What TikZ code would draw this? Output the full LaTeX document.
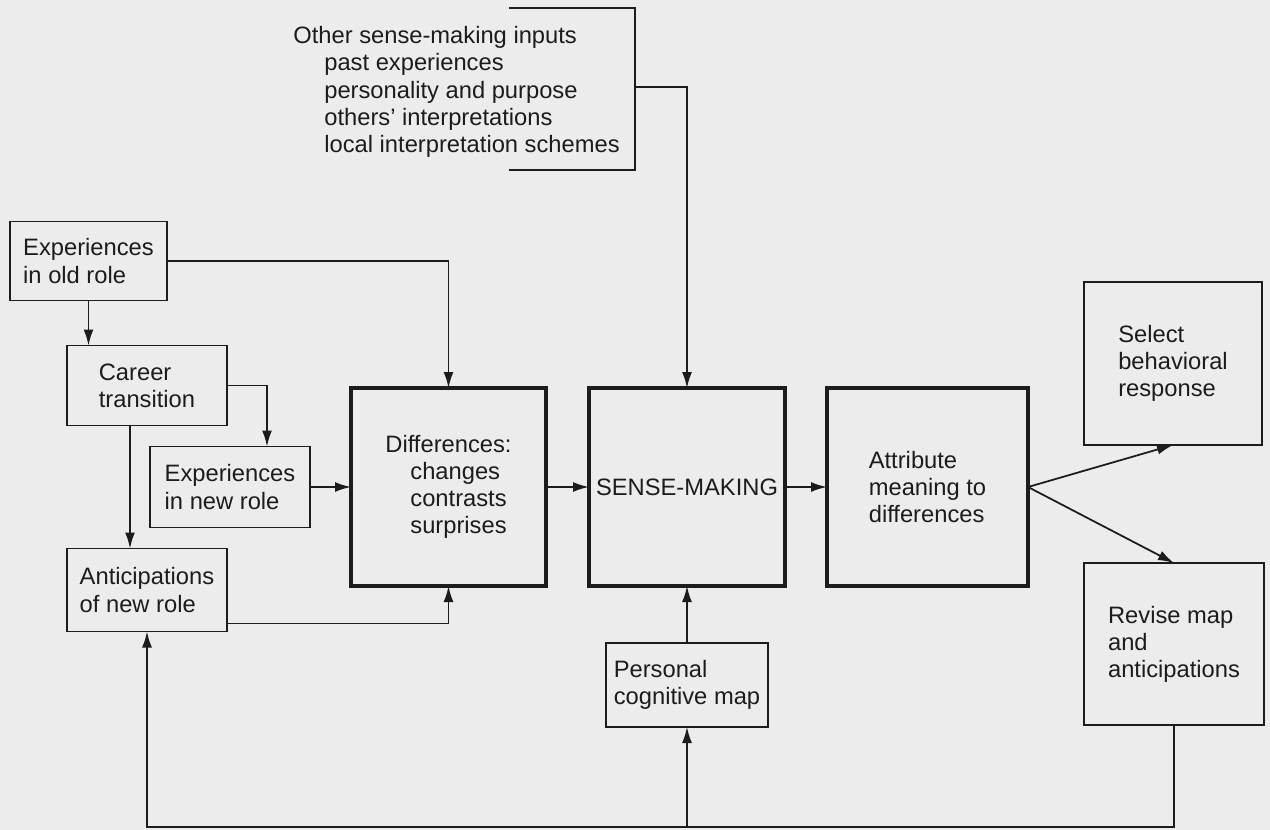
\documentclass[tikz,border=0pt]{standalone}
\usepackage{fontspec}
\setmainfont{Liberation Sans}
\usetikzlibrary{arrows.meta, positioning, calc}
\definecolor{paper}{RGB}{236,236,236}
\definecolor{ink}{RGB}{28,28,28}
\newcommand{\Ind}[1]{\hspace*{#1}}
\tikzset{
    box/.style={draw=ink, line width=1.1pt, rectangle, align=left, inner sep=0pt, outer sep=0pt,
        text=ink, font=\fontsize{13.5}{15.4}\selectfont},
    thickbox/.style={box, line width=2.4pt},
    flow/.style={draw=ink, line width=1pt, -{Latex[length=3.2mm, width=2mm]}},
    bracket/.style={draw=ink, line width=1pt},
}

\begin{document}
\begin{tikzpicture}
    \fill[paper] (0,0) rectangle (25.4,-16.6);
    \useasboundingbox (0,0) rectangle (25.4,-16.6);

    % middle row
    \node[thickbox, minimum width=3.9cm, minimum height=3.96cm] (diff) at (8.97,-9.74)
        {Differences:\\\Ind{0.5cm}changes\\\Ind{0.5cm}contrasts\\\Ind{0.5cm}surprises};
    \node[thickbox, right=0.86cm of diff, minimum width=3.92cm, minimum height=3.96cm] (sense) {SENSE-MAKING};
    \node[thickbox, right=0.84cm of sense, minimum width=4.02cm, minimum height=3.96cm] (attr)
        {Attribute\\meaning to\\differences};

    % outcomes
    \node[box, above right=0.84cm and 1.12cm of attr.east, minimum width=3.56cm, minimum height=3.26cm] (select)
        {Select\\behavioral\\response};
    \node[box, below right=1.52cm and 1.12cm of attr.east, minimum width=3.6cm, minimum height=3.24cm] (revise)
        {Revise map\\and\\anticipations};
    \node[box, below=1.14cm of sense, minimum width=3.24cm, minimum height=1.68cm] (personal)
        {Personal\\cognitive map};

    % left column
    \node[box, left=0.82cm of diff, minimum width=3.2cm, minimum height=1.62cm] (expnew)
        {Experiences\\in new role};
    \node[box, above left=0.42cm and 0.06cm of expnew.north, minimum width=3.2cm, minimum height=1.6cm] (career)
        {Career\\transition};
    \node[box, below=2.46cm of career, minimum width=3.2cm, minimum height=1.66cm] (antic)
        {Anticipations\\of new role};
    \node[box, above=0.9cm of career, xshift=-1.17cm, minimum width=3.14cm, minimum height=1.58cm] (expold)
        {Experiences\\in old role};

    % other inputs
    \node[anchor=west, align=left, inner sep=0pt, text=ink, font=\fontsize{13.5}{15.6}\selectfont] (inputs) at (5.86,-1.84)
        {Other sense-making inputs\\\Ind{0.62cm}past experiences\\\Ind{0.62cm}personality and purpose\\
         \Ind{0.62cm}others' interpretations\\\Ind{0.62cm}local interpretation schemes};
    \coordinate (brkNW) at (10.18,-0.16);
    \coordinate (brkSW) at (10.18,-3.4);
    \coordinate (brkout) at (12.7,-1.74);
    \draw[bracket] (brkNW) -| (brkSW -| brkout) -- (brkSW);
    \draw[flow] (brkout) -| (sense.north);

    \draw[flow] (expold.east) -| (diff.north);
    \draw[flow] (expold.south) -- (expold.south |- career.north);
    \draw[flow] (career.east) -| ([xshift=0.74cm]expnew.north);
    \draw[flow] ([xshift=-0.34cm]career.south) -- ([xshift=-0.34cm]antic.north);
    \draw[flow] (expnew.east) -- (diff.west);
    \draw[flow] ([yshift=0.16cm]antic.south east) -| (diff.south);

    \draw[flow] (diff.east) -- (sense.west);
    \draw[flow] (sense.east) -- (attr.west);
    \draw[flow] (attr.east) -- (select.south);
    \draw[flow] (attr.east) -- (revise.north);
    \draw[flow] (personal.north) -- (sense.south);

    % feedback loop
    \coordinate[below=2.04cm of revise.south] (turn);
    \draw[flow] (revise.south) -- (turn) -| (antic.south);
    \draw[flow] (personal.south |- turn) -- (personal.south);
\end{tikzpicture}
\end{document}
